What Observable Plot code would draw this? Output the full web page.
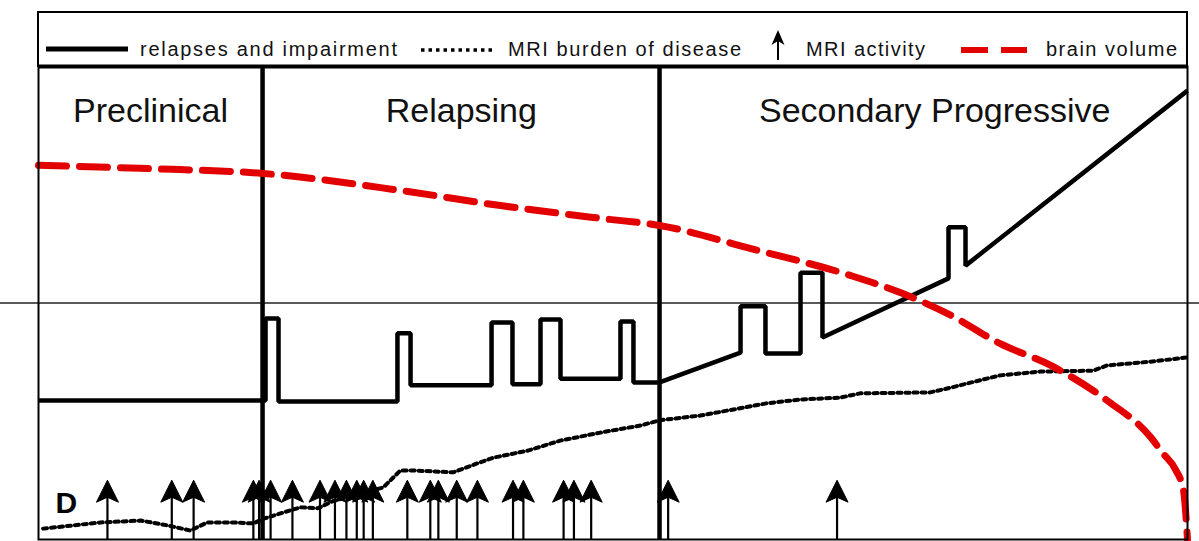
<!DOCTYPE html>
<html><head><meta charset="utf-8">
<script src="https://cdn.jsdelivr.net/npm/d3@7"></script>
<script src="https://cdn.jsdelivr.net/npm/@observablehq/plot@0.6"></script>
<style>
body{margin:0;background:#fff;}
#wrap{position:relative;width:1199px;height:541px;font-family:"Liberation Sans",Arial,sans-serif;background:#fff;}
#wrap svg{position:absolute;left:0;top:0;}
</style></head><body><div id="wrap"></div>
<script>
// ---- data (time axis 0–100, level axis 0–100, arbitrary units) ----
const phaseNames = ["Preclinical", "Relapsing", "Secondary Progressive"];
const phaseBounds = [0, 19.5, 54.05, 100];
const phaseLabelX = [9.75, 36.8, 78];

const relapseX = [0, 19.76, 19.76, 20.89, 20.89, 31.24, 31.24, 32.38, 32.38, 39.43, 39.43, 41.25, 41.25, 43.69, 43.69, 45.43, 45.43, 50.65, 50.65, 51.78, 51.78, 54.05, 61.1, 61.1, 63.27, 63.27, 66.32, 66.32, 68.23, 68.23, 79.2, 79.2, 80.68, 80.68, 100];
const relapseY = [29.4, 29.4, 46.7, 46.7, 29.2, 29.2, 43.6, 43.6, 32.6, 32.6, 45.9, 45.9, 32.8, 32.8, 46.5, 46.5, 34.0, 34.0, 46.1, 46.1, 33.2, 33.2, 39.5, 49.3, 49.3, 39.3, 39.3, 56.4, 56.4, 42.7, 55.2, 66.0, 66.0, 57.9, 94.9];

const burdenX = [0.4, 5.4, 8.9, 11.2, 13.2, 14.7, 17.0, 18.7, 19.6, 21.3, 22.8, 24.3, 25.7, 30.0, 31.5, 32.6, 36.1, 38.2, 39.6, 42.6, 45.4, 48.9, 52.4, 54.05, 57.6, 63.4, 66.3, 69.8, 71.5, 77.6, 79.4, 81.5, 83.7, 87.2, 91.8, 93.0, 96.8, 100];
const burdenY = [2.3, 3.6, 4.0, 3.0, 1.9, 3.6, 3.6, 3.4, 4.4, 5.7, 6.8, 6.6, 8.2, 11.0, 14.6, 14.6, 14.2, 16.1, 17.3, 18.8, 20.9, 22.6, 24.1, 25.2, 26.2, 28.8, 29.6, 30.0, 30.9, 31.1, 32.1, 33.4, 34.7, 35.5, 35.7, 36.8, 37.6, 38.5];

const volumeX = [0, 9.7, 19.5, 31.5, 40.2, 48.9, 54.05, 62.0, 70.7, 75.0, 79.4, 83.7, 88.1, 93.0, 96.8, 97.8, 99.0, 99.65, 100];
const volumeY = [79.1, 78.4, 77.4, 73.8, 70.6, 67.9, 66.4, 61.5, 55.8, 52.2, 47.4, 41.4, 36.8, 29.4, 21.6, 18.4, 14.6, 10.4, 0];

const activityX = [6.0, 11.6, 13.5, 18.7, 19.2, 20.2, 22.1, 24.5, 25.8, 26.8, 27.7, 28.3, 29.1, 32.1, 34.1, 34.8, 36.4, 38.2, 41.3, 42.2, 45.7, 46.6, 48.1, 54.8, 69.5];
const activityLevel = 12.5;

const legendLabels = ["relapses and impairment", "MRI burden of disease", "MRI activity", "brain volume"];
const panelLetter = "D";

// ---- tables ----
const relapse = relapseX.map((x, i) => ({x, y: relapseY[i]}));
const burden = burdenX.map((x, i) => ({x, y: burdenY[i]}));
const volume = volumeX.map((x, i) => ({x, y: volumeY[i]}));

const FONT = '"Liberation Sans", Arial, sans-serif';
const RED = "#e30000";

// notched, filled arrow head symbol
const arrowHead = {
  draw(ctx) {
    ctx.moveTo(0, -12);
    ctx.lineTo(11, 10);
    ctx.lineTo(0, 5);
    ctx.lineTo(-11, 10);
    ctx.closePath();
  }
};

const W = 1199, H = 541;
const chart = Plot.plot({
  width: W, height: H,
  marginLeft: 38, marginRight: 12, marginTop: 66, marginBottom: 2,
  x: {domain: [0, 100], axis: null},
  y: {domain: [0, 100], axis: null},
  style: {background: "white", fontFamily: FONT, color: "black"},
  marks: [
    Plot.ruleY([50], {stroke: "#222", strokeWidth: 1.3, insetLeft: -38, insetRight: -12}),
    Plot.line(burden, {x: "x", y: "y", stroke: "black", strokeWidth: 4, strokeDasharray: "4,4"}),
    Plot.ruleX(activityX, {y1: 0, y2: activityLevel - 3, stroke: "black", strokeWidth: 2.2}),
    Plot.dot(activityX, {x: d => d, y: () => activityLevel - 2.5, symbol: arrowHead, r: 7, fill: "black", stroke: "black", strokeWidth: 1}),
    Plot.ruleX(phaseBounds.slice(1, 3), {stroke: "black", strokeWidth: 4.5}),
    Plot.line(relapse, {x: "x", y: "y", stroke: "black", strokeWidth: 4.5, strokeLinejoin: "miter", strokeLinecap: "butt"}),
    Plot.line(volume, {x: "x", y: "y", stroke: RED, strokeWidth: 7, strokeDasharray: "28,13", curve: "monotone-x"}),
    Plot.text(phaseNames, {x: (d, i) => phaseLabelX[i], y: () => 88.2, text: d => d, fontSize: 34, lineAnchor: "bottom", fill: "#111"}),
    Plot.text([panelLetter], {text: d => d, frameAnchor: "bottom-left", dx: 17, dy: -27, fontSize: 30, fontWeight: "bold", textAnchor: "start", lineAnchor: "bottom"}),
    Plot.frame({stroke: "black", strokeWidth: 2}),
    Plot.ruleY([100], {stroke: "black", strokeWidth: 4})
  ]
});

const wrap = document.getElementById("wrap");
wrap.appendChild(chart);

// ---- legend (overlaid in the top box) ----
const lg = d3.create("svg").attr("width", W).attr("height", 70).style("overflow", "visible");
lg.append("rect").attr("x", 38).attr("y", 12).attr("width", 1149).attr("height", 54)
  .attr("fill", "none").attr("stroke", "black").attr("stroke-width", 2);
lg.append("line").attr("x1", 46).attr("x2", 128).attr("y1", 49).attr("y2", 49)
  .attr("stroke", "black").attr("stroke-width", 5);
lg.append("line").attr("x1", 421).attr("x2", 494).attr("y1", 50).attr("y2", 50)
  .attr("stroke", "black").attr("stroke-width", 3.5).attr("stroke-dasharray", "3.5,4");
lg.append("line").attr("x1", 778).attr("x2", 778).attr("y1", 60).attr("y2", 40)
  .attr("stroke", "black").attr("stroke-width", 2);
lg.append("path").attr("d", "M778,30 L784.5,45 L778,41 L771.5,45 Z").attr("fill", "black");
lg.append("line").attr("x1", 961).attr("x2", 1027).attr("y1", 50).attr("y2", 50)
  .attr("stroke", RED).attr("stroke-width", 6).attr("stroke-dasharray", "27,13");
const legendLayout = [[140, 257], [508, 233], [806, 119], [1046, 131]];
legendLabels.forEach((t, i) => {
  lg.append("text").attr("x", legendLayout[i][0]).attr("y", 56)
    .attr("textLength", legendLayout[i][1]).attr("lengthAdjust", "spacing")
    .attr("font-family", FONT).attr("font-size", 20).attr("fill", "#111").text(t);
});
wrap.appendChild(lg.node());
</script></body></html>
